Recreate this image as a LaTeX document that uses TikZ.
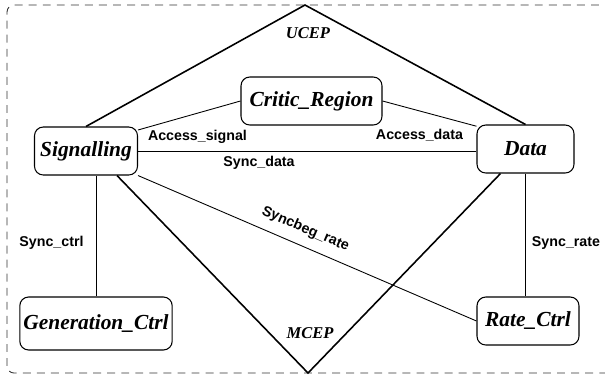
\documentclass[tikz,border=0pt]{standalone}
\usepackage{fontspec}
\setmainfont{Liberation Serif}
\setsansfont{Liberation Sans}
\usepackage{tikz}
\usetikzlibrary{positioning,calc}

\begin{document}
\begin{tikzpicture}[
    proc/.style={rounded corners=5pt, draw, line width=0.6pt, inner sep=2pt,
        minimum height=0.96cm, font=\fontsize{12.2}{14}\selectfont\bfseries\itshape},
    chan/.style={line width=0.5pt},
    cep/.style={line width=0.9pt},
    lbl/.style={font=\fontsize{8.1}{10}\selectfont\sffamily\bfseries, inner sep=1pt},
    ceplbl/.style={font=\fontsize{9.4}{11}\selectfont\bfseries\itshape}
]
\useasboundingbox (0,0) rectangle (12.1,7.52);
% Frame
\draw[black!80, dash pattern=on 4.5pt off 3.5pt, line width=0.5pt, rounded corners=4pt]
    (0.14,0.06) rectangle (12.3,7.42);

% Processes
\node[proc, minimum width=2.82cm] (critic) at (6.23,5.5) {Critic\_Region};
\node[proc, minimum width=2.06cm] (sig) at (1.72,4.5) {Signalling};
\node[proc, minimum width=1.94cm] (data) at (10.51,4.54) {Data};
\node[proc, minimum width=3.04cm, minimum height=1.06cm] (gen) at (1.92,1.05) {Generation\_Ctrl};
\node[proc, minimum width=2.04cm] (rate) at (10.56,1.1) {Rate\_Ctrl};

% CEPs
\coordinate (ucep) at (6.1,7.42);
\coordinate (mcep) at (6.16,0.06);
\draw[cep] (sig.north) -- (ucep) -- (data.north);
\draw[cep] ([xshift=0.62cm]sig.south) -- (mcep) -- ([xshift=-0.5cm]data.south);
\node[ceplbl] (ucepl) at (6.16,6.86) {UCEP};
\node[ceplbl] (mcepl) at (6.2,0.86) {MCEP};

% Channels
\draw[chan] ([yshift=-2pt]sig.north east) -- (critic.west);
\draw[chan] (critic.east) -- ([yshift=-1pt]data.north west);
\draw[chan] (sig.east) -- (sig.east -| data.west);
\draw[chan] (gen.north) -- (gen.north |- sig.south);
\draw[chan] (data.south) -- (data.south |- rate.north);
\draw[chan] (sig.south east) -- node[lbl, sloped, above=4.5pt, pos=0.475] (sbr) {Syncbeg\_rate} (rate.west);

\node[lbl] (acsig) at (3.95,4.79) {Access\_signal};
\node[lbl] (acdata) at (8.39,4.82) {Access\_data};
\node[lbl] (sdata) at (5.18,4.26) {Sync\_data};
\node[lbl] (sctrl) at (1.03,2.66) {Sync\_ctrl};
\node[lbl] (srate) at (11.32,2.66) {Sync\_rate};
\end{tikzpicture}
\end{document}
